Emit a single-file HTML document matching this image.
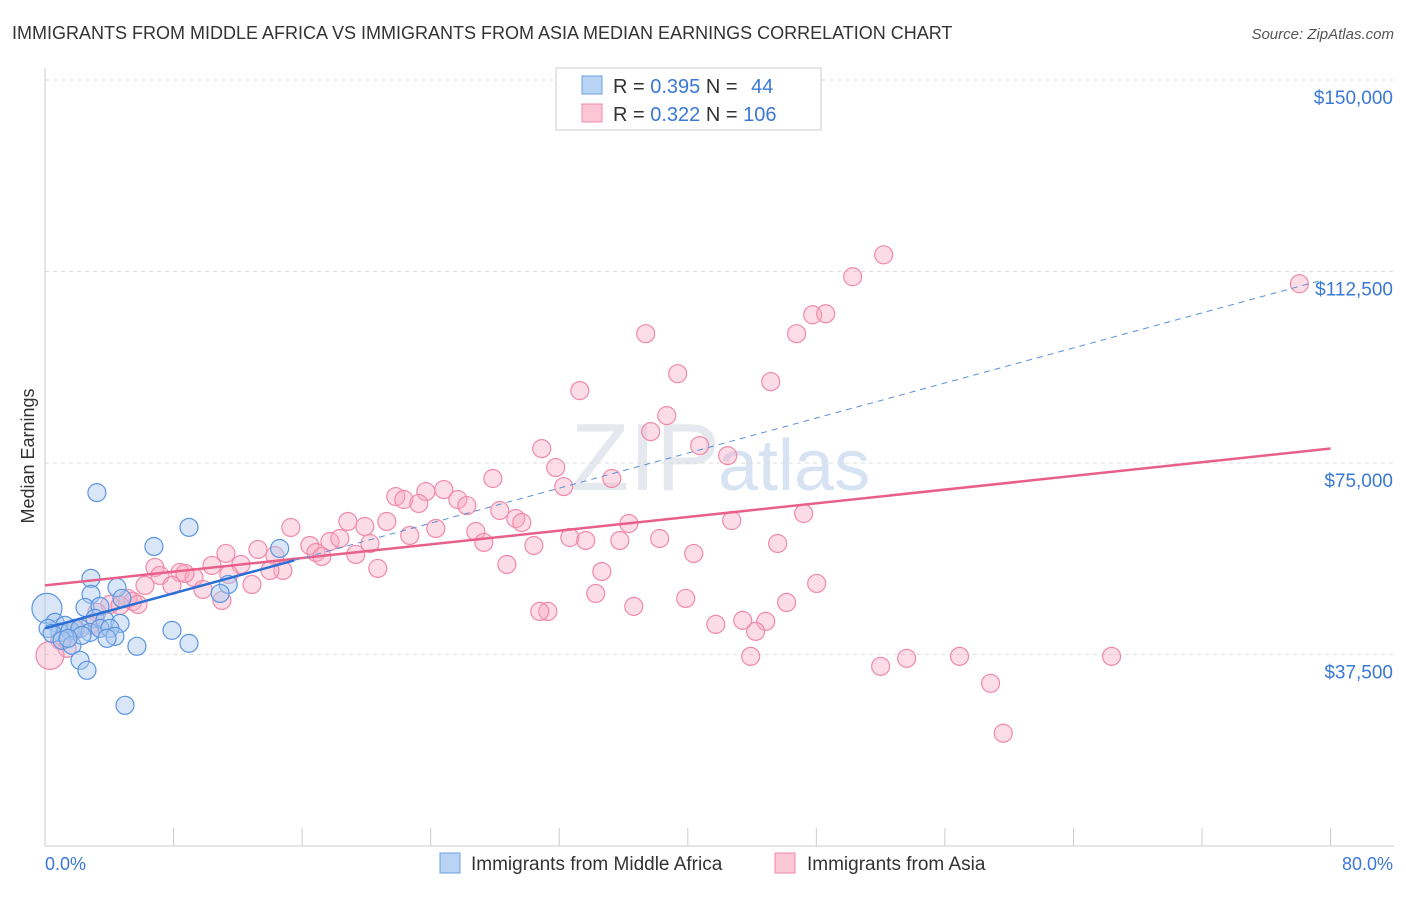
<!DOCTYPE html>
<html><head><meta charset="utf-8"><style>
body{margin:0;background:#fff;font-family:"Liberation Sans",sans-serif}
svg text{font-family:"Liberation Sans",sans-serif}
</style></head><body>
<svg width="1406" height="892">
<text x="12" y="39" font-size="18" fill="#333">IMMIGRANTS FROM MIDDLE AFRICA VS IMMIGRANTS FROM ASIA MEDIAN EARNINGS CORRELATION CHART</text>
<text x="1394" y="39" font-size="15" fill="#555" font-style="italic" text-anchor="end">Source: ZipAtlas.com</text>
<text x="720" y="490" font-size="96" fill="#ccd3de" opacity="0.5" text-anchor="end" font-family="Liberation Serif">ZIP</text>
<text x="718" y="490" font-size="72" fill="#b8cdea" opacity="0.55">atlas</text>
<g id="grid"></g><g id="axes"></g><g id="marks"></g>
<text x="34" y="456" font-size="18" fill="#333" transform="rotate(-90 34 456)" text-anchor="middle">Median Earnings</text>
<text x="45" y="870" font-size="18" fill="#3a78d6">0.0%</text>
<text x="1393" y="870" font-size="18" fill="#3a78d6" text-anchor="end">80.0%</text>
<g>
<rect x="556" y="68" width="265" height="62" fill="#fff" stroke="#ccc"/>
<rect x="582" y="76" width="20" height="18" fill="#b9d3f5" stroke="#6a9fe0"/>
<rect x="582" y="104" width="20" height="18" fill="#fbc6d6" stroke="#f08aa8"/>
<text x="613" y="93" font-size="20" fill="#333">R = <tspan fill="#3a78d6">0.395</tspan>   N = <tspan fill="#3a78d6" dx="8">44</tspan></text>
<text x="613" y="121" font-size="20" fill="#333">R = <tspan fill="#3a78d6">0.322</tspan>   N = <tspan fill="#3a78d6">106</tspan></text>
</g>
<g>
<rect x="440" y="853" width="20" height="20" fill="#b9d3f5" stroke="#6a9fe0"/>
<text x="471" y="870" font-size="19" fill="#333">Immigrants from Middle Africa</text>
<rect x="775" y="853" width="20" height="20" fill="#fbc6d6" stroke="#f08aa8"/>
<text x="807" y="870" font-size="19" fill="#333">Immigrants from Asia</text>
</g>
</svg>
<script>
const yTicks=[37500,75000,112500,150000];
const yTickLabels=["$37,500","$75,000","$112,500","$150,000"];
const xTicks=[0,8,16,24,32,40,48,56,64,72,80];
const blueX=[3.23,8.96,6.78,14.6,2.86,4.48,11.4,2.86,4.79,10.9,2.49,3.42,0.12,0.62,1.24,1.87,3.11,3.73,4.67,7.9,0.93,1.56,2.18,2.8,3.42,4.04,4.35,3.86,0.19,0.44,1.06,1.68,2.3,1.43,5.72,8.96,2.18,2.61,4.98];
const blueY=[69200,62400,58650,58260,52400,50630,51220,49270,48480,49460,46720,46920,46530,43790,43200,42620,44570,44180,43590,42220,41830,42220,42620,41830,42620,42620,41050,40660,42620,41640,40270,39290,41250,40660,39100,39680,36360,34400,27550];
const blueR=[9,9,9,9,9,9,9,9,9,9,9,9,15,9,9,9,9,9,9,9,9,9,9,9,9,9,9,9,9,9,9,9,9,9,9,9,9,9,9];
const pinkX=[52.19,50.26,78.06,47.77,48.58,46.77,37.38,33.28,39.37,45.16,38.69,37.69,40.74,30.91,42.48,31.78,27.87,35.27,32.28,24.82,23.70,21.83,22.33,23.26,25.69,26.25,28.30,21.27,18.85,15.30,19.90,24.32,29.30,29.67,26.81,36.33,42.73,47.21,22.70,32.66,33.65,38.25,27.31,16.48,17.73,18.35,20.22,30.42,35.77,45.59,13.25,16.86,17.23,19.34,11.26,14.31,40.37,12.19,10.39,14.80,28.74,20.71,6.84,8.40,9.27,14.00,34.65,11.44,7.15,8.71,6.22,7.90,9.83,12.88,48.02,34.27,5.16,5.47,4.04,4.67,5.78,3.23,11.01,46.15,39.87,36.64,31.29,44.85,41.74,43.42,44.22,2.80,1.87,3.42,0.93,1.37,0.31,43.91,52.00,53.62,56.91,66.37,58.84,59.63,30.79];
const pinkY=[115770,111470,110100,104030,104230,100320,100320,89170,92490,90930,84280,81150,78410,77820,76450,74110,71960,71960,70390,69800,69410,68430,67850,67070,67850,66670,65700,63550,63550,62370,62570,62180,64130,63350,61590,63150,63740,65110,60810,60410,59830,60220,59440,58850,59630,60220,59240,58850,59830,59240,58070,57480,56700,57090,57290,56890,57290,55130,54940,53960,55130,54350,54550,53570,52590,53960,53760,53180,52980,53370,51030,51030,50240,51220,51420,49460,48480,47900,47310,47110,47310,45750,48090,47700,48480,46920,45940,43990,43400,44180,42030,43200,42220,42620,40270,38700,37330,37140,35180,36750,37140,37140,31860,22080,45940];
const pinkR=pinkX.map((v,i)=>i===96?14:9);
const blueTrend=[42620,858];
const pinkTrend=[51030,335];
const xs=p=>45+p*16.07, ys=v=>846-v*(766/150000);
const NS="http://www.w3.org/2000/svg";
function mk(t,a,p){const e=document.createElementNS(NS,t);for(const k in a)e.setAttribute(k,a[k]);p.appendChild(e);return e;}
const grid=document.getElementById('grid'),axes=document.getElementById('axes'),marks=document.getElementById('marks');
yTicks.forEach((v,i)=>{
 const l=mk('line',{x1:45,x2:1394,y1:ys(v),y2:ys(v),stroke:'#ddd','stroke-dasharray':'4,4'},grid);
 
 
 const t=mk('text',{x:1393,y:ys(v)+24,'font-size':19,fill:'#3a78d6','text-anchor':'end'},axes);t.textContent=yTickLabels[i];
 
 
});
const ax=mk('line',{x1:45,x2:45,y1:68,y2:846,stroke:'#ccc'},axes);


const bx=mk('line',{x1:45,x2:1394,y1:846,y2:846,stroke:'#ccc'},axes);


xTicks.forEach(p=>{const t=mk('line',{x1:xs(p),x2:xs(p),y1:828,y2:846,stroke:'#ccc'},axes);
 
 });
pinkX.forEach((x,i)=>{const c=mk('circle',{cx:xs(x),cy:ys(pinkY[i]),r:pinkR[i],fill:'#f7a8c0','fill-opacity':0.4,stroke:'#f08aa8','stroke-width':1.2},marks);
 
 });
blueX.forEach((x,i)=>{const c=mk('circle',{cx:xs(x),cy:ys(blueY[i]),r:blueR[i],fill:'#a8c8f0','fill-opacity':0.45,stroke:'#5b95e0','stroke-width':1.2},marks);
 
 });
const pl=mk('line',{x1:xs(0),y1:ys(pinkTrend[0]),x2:xs(80),y2:ys(pinkTrend[0]+pinkTrend[1]*80),stroke:'#e8608a','stroke-width':2.5},marks);


const bl=mk('line',{x1:xs(0),y1:ys(blueTrend[0]),x2:xs(15.5),y2:ys(blueTrend[0]+blueTrend[1]*15.5),stroke:'#2a6fd6','stroke-width':2.5},marks);


const bd=mk('line',{x1:xs(15.5),y1:ys(blueTrend[0]+blueTrend[1]*15.5),x2:xs(79.3),y2:ys(blueTrend[0]+blueTrend[1]*79.3),stroke:'#5b8fd8','stroke-width':1,'stroke-dasharray':'6,5'},marks);


</script>
</body></html>
